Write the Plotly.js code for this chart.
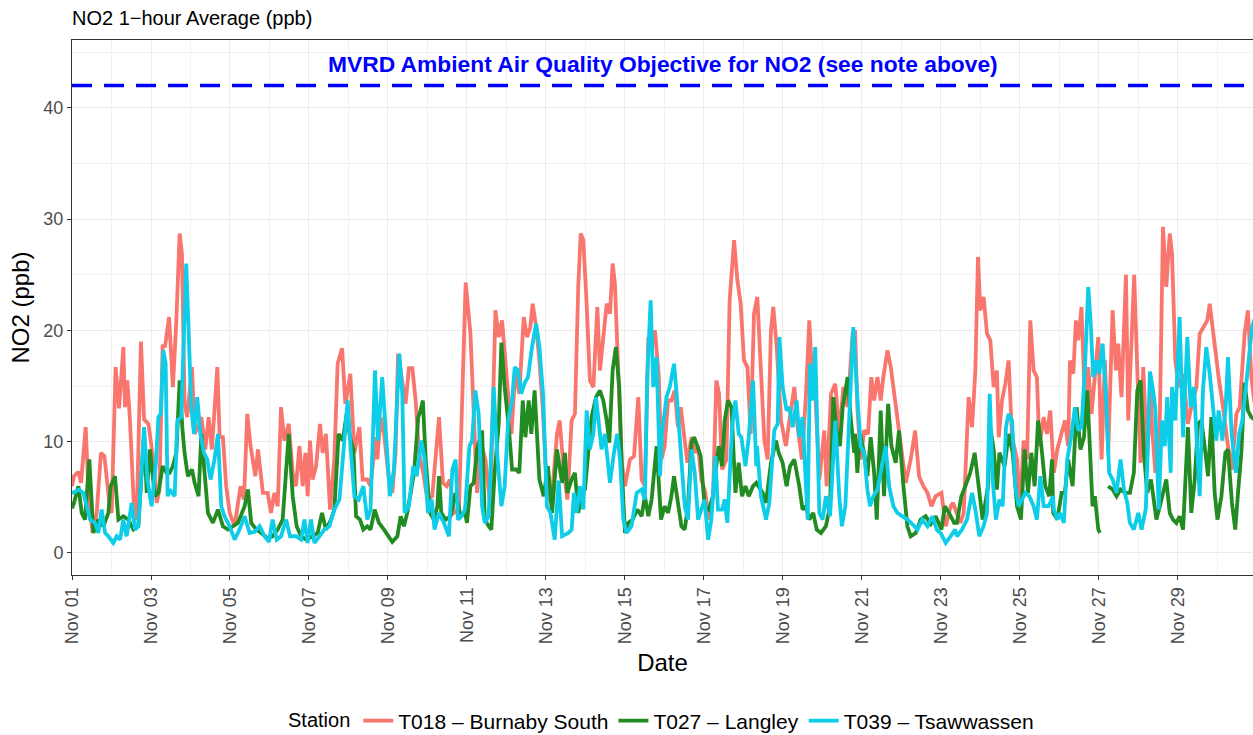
<!DOCTYPE html>
<html>
<head>
<meta charset="utf-8">
<script src="https://cdn.plot.ly/plotly-3.0.1.min.js"></script>
<style>html,body{margin:0;padding:0;background:#fff;}#chart{width:1253px;height:735px;}</style>
</head>
<body>
<div id="chart"></div>
<script>
// Start of the period shown (hours below are counted from this moment)
const startDate = '2023-11-01';
const endHour = 717.6;

// Station names (legend)
const stationNames = ['T018 \u2013 Burnaby South', 'T027 \u2013 Langley', 'T039 \u2013 Tsawwassen'];

// Objective value (ppb) and its label
const objectiveValue = 42;
const objectiveLabel = 'MVRD Ambient Air Quality Objective for NO2 (see note above)';

// Readings: [hours since Nov 01 00:00, NO2 ppb]
const burnabySouth = [[0,6.0],[1.2,6.9],[3.9,7.3],[5.5,6.3],[8.3,11.3],[10.3,4.5],[12.6,1.8],[15.0,3.6],[17.6,9.0],[19.7,8.7],[22.7,4.5],[24.1,3.6],[26.5,16.7],[28.6,13.0],[31.2,18.5],[32.2,13.1],[33.6,15.5],[35.2,12.0],[37.7,3.9],[39.3,3.0],[41.9,19.0],[43.8,12.0],[46.4,11.6],[49.4,8.4],[51.5,4.5],[53.1,5.7],[55.1,18.7],[56.5,18.5],[59.0,21.2],[61.3,14.9],[63.4,20.9],[65.4,28.7],[66.8,26.9],[68.4,13.4],[70.0,12.2],[72.9,16.7],[74.5,10.7],[76.5,11.3],[78.6,12.2],[81.0,9.3],[83.0,12.2],[85.0,9.3],[88.3,16.7],[89.7,10.4],[91.7,10.4],[93.7,6.0],[95.8,3.6],[98.8,2.4],[102.4,6.0],[104.5,4.8],[106.5,12.5],[108.5,9.6],[111.4,6.9],[113.0,9.3],[116.0,5.4],[118.9,5.4],[120.9,3.6],[123.0,5.4],[125.0,4.2],[127.0,13.1],[129.0,10.1],[131.7,11.6],[134.1,7.2],[136.1,6.0],[138.2,9.6],[140.2,6.0],[141.8,9.0],[143.2,5.1],[144.6,10.1],[146.2,6.6],[148.3,7.8],[150.7,11.6],[152.3,9.0],[154.3,10.7],[156.8,3.9],[159.4,8.4],[161.4,17.0],[164.1,18.4],[166.1,13.4],[169.1,16.1],[171.6,9.0],[174.6,11.3],[176.6,6.6],[179.4,6.6],[181.4,6.0],[184.5,10.4],[185.5,8.4],[187.5,12.2],[189.6,10.7],[192.6,6.6],[194.6,5.4],[196.6,9.0],[198.1,17.9],[200.1,15.8],[202.7,13.4],[204.7,16.6],[206.8,16.6],[208.8,13.7],[210.8,9.0],[213.4,7.2],[215.9,4.8],[218.9,5.1],[223.0,12.2],[225.4,6.3],[227.6,6.0],[229.6,6.6],[232.1,3.6],[235.1,3.9],[239.2,24.3],[242.1,19.7],[244.1,13.1],[246.1,5.4],[248.1,10.1],[251.2,8.4],[254.2,4.2],[257.3,21.8],[259.3,19.4],[261.3,20.9],[263.3,17.3],[265.4,13.1],[267.0,10.7],[269.4,16.4],[271.8,14.3],[274.5,21.2],[276.5,19.4],[278.5,20.3],[279.9,22.4],[282.0,20.3],[284.0,17.3],[286.0,13.1],[288.6,5.4],[291.3,4.5],[294.7,10.7],[296.3,11.9],[298.9,7.2],[301.0,4.8],[303.6,11.9],[305.6,12.5],[307.6,23.9],[309.1,28.7],[310.7,28.1],[312.7,22.4],[314.7,15.5],[316.8,14.9],[319.2,22.1],[320.8,16.4],[322.4,19.1],[324.9,22.4],[326.9,21.5],[328.5,26.0],[329.9,24.2],[331.9,17.3],[334.0,8.1],[336.0,6.0],[339.0,8.4],[341.5,8.7],[344.1,14.0],[346.1,6.6],[348.1,6.0],[350.2,19.4],[352.2,18.5],[354.2,20.0],[356.5,16.0],[358.1,8.4],[360.1,9.6],[362.2,13.7],[364.2,13.7],[366.2,14.6],[368.2,11.3],[369.9,13.1],[371.9,10.4],[373.9,8.1],[376.4,10.4],[378.4,9.0],[380.4,9.6],[382.4,6.6],[384.9,5.4],[386.9,3.0],[389.5,5.1],[391.5,15.5],[393.2,14.3],[395.0,7.5],[397.6,8.4],[399.6,22.7],[402.3,28.1],[404.3,24.5],[406.3,22.4],[408.3,17.3],[410.4,16.7],[412.4,10.7],[414.4,21.5],[416.4,23.0],[418.6,16.4],[420.7,10.1],[422.7,8.4],[424.7,20.0],[426.1,22.1],[428.2,18.5],[430.8,11.9],[433.8,9.6],[435.9,11.9],[438.9,14.9],[440.9,11.3],[443.5,8.4],[446.0,14.3],[448.0,20.9],[449.6,16.1],[451.6,14.3],[454.1,6.6],[457.1,11.0],[458.5,6.0],[461.2,14.3],[463.8,15.2],[466.2,10.7],[468.7,14.9],[471.3,13.1],[474.3,19.7],[475.8,20.0],[477.2,13.1],[479.2,8.4],[481.3,11.0],[483.7,10.7],[485.7,15.8],[487.4,13.7],[489.4,15.8],[491.4,13.7],[493.0,15.8],[495.5,18.2],[497.5,16.7],[499.5,14.3],[501.5,11.9],[504.0,9.0],[506.6,6.3],[509.6,8.4],[512.3,11.0],[514.7,6.9],[517.3,6.0],[519.8,5.4],[522.2,4.2],[524.8,5.1],[528.3,5.4],[530.9,2.4],[533.9,4.2],[535.3,4.5],[537.7,3.6],[539.8,2.7],[541.8,3.6],[544.8,14.0],[546.9,11.3],[548.9,16.4],[550.5,26.6],[551.9,21.8],[553.9,23.0],[556.0,19.7],[558.0,19.1],[560.0,14.9],[562.0,16.4],[563.1,10.4],[565.1,13.7],[567.1,15.2],[569.1,17.3],[571.2,10.4],[574.2,8.4],[576.2,4.2],[578.2,10.1],[580.3,8.4],[582.3,20.9],[584.3,16.4],[586.3,15.8],[587.8,9.6],[590.4,12.2],[592.4,10.7],[594.4,12.8],[596.6,7.2],[598.7,9.3],[601.3,10.7],[603.3,11.9],[605.3,9.6],[606.4,17.3],[608.4,16.1],[610.0,20.9],[611.4,19.1],[613.4,22.1],[615.5,13.1],[617.5,16.7],[619.5,12.5],[621.5,15.5],[623.6,19.4],[625.6,8.4],[627.6,17.3],[629.6,9.0],[632.3,21.8],[634.3,16.4],[635.7,18.8],[637.7,14.0],[640.4,25.0],[641.8,11.9],[643.8,20.0],[645.4,25.0],[647.3,16.4],[649.3,8.1],[650.9,16.7],[653.3,8.4],[655.6,15.5],[656.2,11.3],[658.3,7.2],[660.9,11.3],[662.9,29.3],[664.9,23.9],[667.0,28.7],[668.4,26.9],[670.4,17.3],[672.4,14.9],[675.1,16.1],[678.1,11.6],[680.1,13.1],[683.2,14.9],[685.2,19.7],[687.2,20.3],[689.8,20.9],[691.3,22.4],[693.3,19.7],[695.3,17.0],[696.7,15.8],[699.4,13.1],[702.4,9.6],[704.8,7.5],[707.5,12.5],[709.5,13.1],[712.5,19.7],[714.5,21.8],[716.6,15.8],[718.5,13.5]];

const langley = [[0,4.0],[1.2,4.5],[3.9,6.0],[5.9,3.6],[7.9,3.0],[10.5,8.4],[13.0,1.8],[16.0,3.0],[19.1,2.4],[22.1,3.6],[23.5,6.0],[26.1,6.9],[28.2,3.0],[31.2,3.3],[34.2,3.0],[37.3,2.1],[40.3,2.4],[43.8,10.7],[45.4,5.4],[47.4,9.3],[50.4,5.1],[52.5,5.4],[55.1,7.8],[57.5,7.2],[59.3,7.2],[61.3,7.8],[63.4,9.0],[65.4,15.5],[67.0,11.3],[68.4,9.0],[70.4,6.9],[72.9,7.5],[74.5,6.3],[76.9,5.1],[78.6,10.7],[80.6,6.9],[82.6,3.6],[85.6,2.7],[88.7,3.9],[91.7,2.4],[94.8,2.1],[97.8,2.4],[100.8,2.7],[104.9,4.2],[106.9,5.7],[108.9,2.7],[112.0,2.1],[115.0,1.8],[119.1,1.3],[121.9,1.5],[125.0,2.1],[128.0,3.0],[131.7,10.7],[134.1,5.1],[136.5,2.4],[139.2,1.5],[142.2,1.2],[146.2,1.5],[149.3,1.8],[151.9,3.6],[154.3,2.1],[157.4,3.0],[159.4,3.9],[162.0,10.7],[164.5,10.1],[166.9,12.5],[168.9,10.4],[171.0,9.3],[172.6,3.3],[175.0,3.0],[177.0,2.1],[179.4,2.4],[181.4,2.1],[183.9,3.9],[186.5,2.7],[189.6,2.1],[192.6,1.5],[194.6,1.0],[197.7,1.5],[199.7,3.3],[201.7,2.4],[203.7,3.6],[205.8,5.4],[207.8,7.2],[210.4,12.2],[211.8,12.8],[213.2,13.7],[214.9,8.4],[217.5,3.6],[219.9,3.0],[222.0,4.2],[223.0,6.9],[224.4,3.6],[227.0,3.0],[230.0,3.3],[233.1,5.4],[236.1,3.3],[238.8,3.6],[240.0,2.7],[242.1,6.0],[244.1,6.3],[246.1,9.3],[249.2,11.0],[250.8,3.0],[253.2,2.4],[254.8,2.1],[256.8,7.2],[259.3,11.6],[260.9,18.9],[262.9,14.9],[265.4,11.3],[267.4,7.5],[269.8,7.5],[271.8,7.2],[273.9,13.7],[275.5,10.4],[277.5,13.7],[279.1,10.7],[281.1,14.6],[284.0,6.6],[286.6,5.1],[289.2,7.8],[291.7,3.6],[294.7,9.3],[297.8,6.3],[299.5,9.0],[301.0,5.4],[303.6,6.6],[305.6,7.2],[307.6,3.6],[309.7,5.4],[311.7,5.7],[313.7,9.0],[315.7,12.2],[318.4,14.0],[320.8,14.6],[322.8,13.7],[324.9,11.9],[326.5,9.9],[328.5,16.4],[330.5,18.5],[332.5,14.9],[334.2,7.2],[336.0,1.8],[338.0,2.7],[340.6,3.0],[343.5,3.9],[346.1,3.3],[348.1,5.1],[350.2,3.3],[352.2,4.8],[355.2,9.6],[357.9,3.0],[360.1,4.2],[362.2,3.6],[364.2,5.1],[365.8,6.9],[367.8,5.1],[370.3,2.4],[372.3,2.1],[374.3,4.2],[376.4,9.9],[378.0,10.4],[380.0,9.6],[382.0,8.7],[384.4,4.2],[386.9,3.9],[389.5,5.1],[391.5,7.8],[392.9,9.6],[395.0,7.8],[396.6,11.9],[398.6,13.7],[400.7,13.1],[403.1,5.4],[405.1,8.1],[407.1,5.1],[409.2,6.0],[411.2,5.1],[413.8,6.0],[415.8,6.3],[419.7,5.4],[421.7,4.5],[424.7,8.1],[427.8,10.1],[429.4,9.0],[431.8,8.1],[434.2,6.0],[436.3,7.8],[438.9,8.4],[441.9,6.0],[443.9,3.9],[446.0,4.2],[448.0,3.0],[450.4,3.6],[452.5,2.1],[455.1,1.8],[458.1,2.4],[460.6,4.2],[462.6,14.0],[464.6,11.0],[466.6,9.6],[468.3,13.1],[471.3,15.8],[473.3,11.9],[475.3,9.0],[475.8,10.7],[477.2,7.2],[478.8,10.7],[481.3,9.0],[483.3,6.9],[485.3,10.4],[487.4,7.2],[489.0,3.0],[491.4,12.8],[493.4,5.1],[495.9,13.4],[497.9,9.6],[500.5,8.1],[502.5,11.0],[505.2,6.0],[507.6,2.4],[509.6,1.5],[512.7,1.8],[515.7,3.0],[518.7,3.3],[521.8,2.6],[524.8,3.3],[528.3,2.1],[530.3,4.2],[532.9,3.6],[536.0,2.7],[537.7,2.7],[540.4,5.1],[542.8,6.0],[545.8,7.2],[548.5,9.0],[550.9,6.3],[553.3,3.0],[556.6,6.0],[558.0,11.3],[560.0,9.3],[562.0,5.7],[563.5,9.0],[566.7,7.8],[569.1,10.7],[571.6,9.0],[574.2,4.2],[576.6,3.0],[578.8,9.3],[580.9,5.4],[582.9,9.0],[584.9,6.0],[587.0,11.9],[589.0,9.6],[591.4,6.0],[593.8,5.1],[595.5,8.4],[596.2,3.6],[598.7,3.0],[601.3,5.4],[603.3,5.4],[605.3,8.4],[608.0,6.0],[610.4,13.1],[612.8,9.3],[614.9,10.4],[616.9,14.6],[618.5,10.1],[620.1,4.2],[621.5,5.1],[623.6,2.1],[624.6,1.8],[626.8,null],[629.6,6.0],[632.3,5.7],[634.7,5.1],[637.1,5.7],[639.8,5.4],[642.8,5.4],[645.2,7.2],[647.3,14.6],[649.3,15.5],[651.3,9.0],[653.3,5.4],[655.6,6.6],[656.2,6.0],[658.9,3.0],[661.5,4.5],[664.9,6.6],[667.0,3.6],[669.0,3.0],[671.0,2.7],[673.0,3.3],[675.1,2.1],[676.5,6.0],[678.1,11.3],[680.1,3.6],[682.2,6.6],[684.2,11.6],[686.2,11.9],[688.2,9.6],[690.3,6.9],[692.3,12.2],[694.3,5.4],[696.0,3.0],[698.4,5.1],[700.8,9.0],[702.4,9.3],[704.8,4.5],[706.8,2.1],[708.5,5.4],[710.5,9.0],[712.5,15.3],[714.5,12.8],[716.6,12.2],[718.5,12.0]];

const tsawwassen = [[0,5.5],[1.2,5.4],[3.9,5.7],[6.9,5.4],[8.9,4.2],[11.0,3.0],[14.0,2.7],[16.0,1.8],[18.0,3.9],[20.1,1.8],[22.1,1.5],[25.1,0.9],[27.2,1.5],[29.2,1.2],[31.2,3.0],[33.2,1.5],[36.3,4.5],[38.3,2.1],[40.3,2.4],[43.8,11.3],[45.8,6.6],[48.4,4.2],[51.0,8.1],[52.5,12.2],[53.9,12.5],[55.5,18.2],[56.9,17.0],[58.1,5.1],[59.3,5.7],[62.4,5.1],[64.0,11.9],[66.4,12.2],[69.4,26.0],[70.9,19.4],[72.5,13.1],[74.1,10.7],[76.1,14.0],[78.0,10.7],[80.2,9.0],[82.2,8.4],[84.2,6.6],[86.6,8.4],[88.7,10.7],[90.7,4.2],[92.7,3.3],[95.8,2.4],[98.8,1.2],[101.8,2.1],[104.9,3.3],[107.9,1.8],[111.0,1.9],[114.0,2.4],[117.0,1.5],[119.7,1.0],[121.9,3.0],[124.4,1.2],[127.0,1.5],[130.1,3.0],[132.5,1.5],[136.1,1.5],[139.2,1.2],[141.2,3.0],[143.2,0.9],[145.2,3.0],[147.3,0.9],[150.3,1.5],[153.3,2.1],[156.4,2.4],[159.4,3.9],[162.5,4.8],[164.9,9.0],[167.5,13.7],[169.5,9.0],[171.6,5.1],[174.2,4.8],[177.0,6.0],[179.4,3.0],[181.4,3.9],[184.1,16.4],[185.9,10.1],[188.5,15.8],[190.6,10.7],[193.2,5.1],[195.6,7.5],[197.0,11.3],[198.9,17.9],[200.7,14.3],[202.1,3.6],[204.7,4.2],[207.4,7.8],[209.4,6.9],[212.2,10.1],[214.3,8.4],[216.3,3.6],[218.5,4.8],[220.3,2.1],[222.9,3.6],[226.0,2.7],[229.0,1.5],[231.1,7.5],[233.1,8.4],[234.5,3.0],[236.7,3.3],[238.8,3.9],[241.5,9.6],[243.1,10.1],[245.1,14.6],[247.1,12.5],[249.2,4.2],[250.8,2.7],[253.2,3.3],[256.2,14.9],[258.3,9.0],[260.9,4.2],[262.9,6.0],[265.0,11.9],[267.4,13.7],[269.0,16.7],[271.0,16.4],[273.0,14.3],[275.1,15.3],[277.1,15.8],[279.5,18.5],[282.0,20.6],[284.0,18.5],[286.2,14.3],[288.6,4.2],[290.7,3.6],[293.3,1.2],[295.7,6.5],[297.8,1.5],[301.6,1.8],[303.6,2.1],[305.0,5.4],[306.6,3.6],[308.7,6.0],[310.7,3.9],[312.7,12.8],[314.7,9.3],[316.8,10.7],[318.4,14.0],[320.4,10.7],[321.8,9.3],[323.8,10.7],[326.9,6.3],[329.3,9.0],[331.3,10.7],[333.0,8.4],[335.0,3.0],[337.0,1.8],[340.0,2.4],[343.1,5.4],[346.1,5.7],[348.1,4.8],[349.6,16.1],[351.6,22.7],[353.2,14.9],[355.2,17.6],[357.3,6.9],[358.5,10.7],[361.2,14.0],[363.2,14.9],[365.8,17.0],[367.2,14.6],[368.7,11.3],[370.3,9.0],[372.3,4.2],[374.3,3.0],[376.4,9.3],[378.4,7.2],[380.4,3.0],[382.4,3.9],[384.4,4.8],[386.5,1.2],[388.5,3.0],[390.9,8.7],[392.5,3.9],[395.0,3.9],[396.6,4.8],[398.2,2.7],[401.1,11.3],[403.1,13.7],[405.1,10.7],[406.7,10.4],[409.2,7.8],[411.2,10.4],[413.8,15.5],[415.8,7.8],[416.2,9.6],[418.6,5.1],[421.7,3.0],[423.7,4.5],[426.7,11.0],[428.8,11.6],[429.8,19.4],[431.8,14.9],[434.2,12.8],[435.9,13.1],[437.9,11.3],[440.3,13.7],[441.9,10.4],[443.9,12.2],[446.0,5.4],[447.0,3.0],[448.4,17.0],[450.0,13.7],[451.6,18.5],[454.1,3.6],[456.1,3.0],[458.1,5.1],[460.6,3.3],[463.8,11.9],[466.2,5.1],[467.8,2.4],[469.9,4.2],[472.3,12.2],[474.7,20.3],[477.2,14.0],[479.2,9.6],[481.3,9.0],[483.3,5.7],[484.9,4.2],[486.9,5.1],[489.4,5.7],[491.4,7.2],[494.4,9.6],[496.5,6.0],[499.1,4.2],[501.5,3.6],[504.6,3.3],[507.6,3.0],[510.6,2.6],[513.7,2.1],[516.7,3.0],[519.8,2.4],[522.8,3.3],[525.4,2.1],[527.8,1.8],[530.9,0.9],[533.9,1.5],[536.6,2.1],[537.7,1.5],[540.8,2.1],[543.8,3.0],[546.9,5.4],[548.9,3.9],[551.3,1.5],[553.9,2.4],[556.0,3.6],[557.6,14.3],[559.4,6.6],[561.4,3.0],[563.5,4.8],[565.5,4.2],[567.5,11.3],[569.1,12.5],[571.2,11.9],[573.2,6.0],[575.2,4.2],[577.2,4.8],[579.3,5.4],[581.7,5.1],[584.3,4.2],[586.3,3.0],[588.4,6.9],[590.4,4.2],[593.4,4.2],[596.1,5.1],[596.6,3.9],[598.7,3.0],[600.3,3.6],[602.7,2.7],[604.7,8.4],[607.4,10.7],[609.4,13.1],[611.4,11.0],[613.4,11.3],[615.5,16.7],[617.5,23.9],[618.9,20.9],[620.5,15.8],[622.6,17.3],[624.2,16.1],[626.2,18.8],[628.2,14.3],[630.2,7.2],[632.3,6.6],[634.7,5.4],[637.1,8.4],[639.2,5.7],[641.2,4.5],[642.8,2.7],[645.2,2.1],[647.9,3.6],[649.9,2.1],[652.5,4.0],[655.0,16.3],[657.0,14.5],[658.3,12.8],[660.3,3.9],[662.3,11.9],[664.0,9.6],[665.5,14.0],[667.6,7.2],[668.4,14.9],[670.4,11.9],[673.0,21.2],[675.1,10.4],[677.7,19.4],[679.7,13.1],[681.8,14.9],[683.8,9.0],[685.2,5.1],[687.2,14.6],[689.2,18.5],[691.3,16.1],[693.3,13.1],[695.3,10.1],[696.7,12.8],[699.0,10.1],[701.0,13.1],[702.4,17.6],[704.6,10.7],[707.2,7.2],[709.2,10.7],[711.1,11.9],[713.1,14.6],[715.0,17.3],[717.0,20.3],[718.5,21.0]];

const stationData = [burnabySouth, langley, tsawwassen];
const stationColors = ['#F8766D', '#228B22', '#0DCDE8'];

function hourToDate(h) {
  const d = new Date(Date.UTC(2023, 10, 1) + Math.round(h * 3600000));
  const p = n => String(n).padStart(2, '0');
  return d.getUTCFullYear() + '-' + p(d.getUTCMonth() + 1) + '-' + p(d.getUTCDate()) + ' ' +
         p(d.getUTCHours()) + ':' + p(d.getUTCMinutes()) + ':' + p(d.getUTCSeconds());
}

const FONT = '"Liberation Sans", Arial, Helvetica, sans-serif';

const traces = stationData.map((series, i) => ({
  type: 'scatter',
  mode: 'lines',
  name: stationNames[i],
  x: series.map(p => hourToDate(p[0])),
  y: series.map(p => p[1]),
  connectgaps: false,
  line: {color: stationColors[i], width: 3.8},
  hoverinfo: 'skip'
}));

const DAY = 86400000;

const layout = {
  width: 1253,
  height: 735,
  margin: {l: 72, r: 0, t: 40, b: 160},
  paper_bgcolor: '#ffffff',
  plot_bgcolor: '#ffffff',
  font: {family: FONT, color: '#000000'},
  showlegend: true,
  title: {
    text: 'NO2 1\u2212hour Average (ppb)',
    font: {family: FONT, size: 20, color: '#000000'},
    x: 0, xref: 'paper', xanchor: 'left',
    y: 1 - 18 / 735, yref: 'container', yanchor: 'middle'
  },
  xaxis: {
    type: 'date',
    range: [hourToDate(0), hourToDate(endHour)],
    tick0: startDate,
    dtick: 2 * DAY,
    tickformat: '%b %d',
    tickangle: -90,
    ticks: 'outside', ticklen: 4, tickwidth: 1, tickcolor: '#333333',
    tickfont: {family: FONT, size: 18, color: '#4d4d4d'},
    showline: true, linecolor: '#333333', linewidth: 1, mirror: true,
    showgrid: true, gridcolor: '#ebebeb', gridwidth: 1,
    minor: {dtick: DAY, tick0: startDate, showgrid: true, gridcolor: '#f2f2f2', gridwidth: 1, ticks: ''},
    zeroline: false,
    title: {text: 'Date', font: {family: FONT, size: 24, color: '#000000'}, standoff: 10}
  },
  yaxis: {
    range: [-1.98, 46.09],
    tick0: 0, dtick: 10,
    ticks: 'outside', ticklen: 4, tickwidth: 1, tickcolor: '#333333',
    tickfont: {family: FONT, size: 18, color: '#4d4d4d'},
    showline: true, linecolor: '#333333', linewidth: 1, mirror: true,
    showgrid: true, gridcolor: '#ebebeb', gridwidth: 1,
    minor: {dtick: 5, tick0: 0, showgrid: true, gridcolor: '#f2f2f2', gridwidth: 1, ticks: ''},
    zeroline: false,
    title: {text: 'NO2 (ppb)', font: {family: FONT, size: 24, color: '#000000'}, standoff: 6}
  },
  legend: {
    orientation: 'h',
    x: 0.5, xref: 'paper', xanchor: 'center',
    y: 1 - 721 / 735, yref: 'container', yanchor: 'middle',
    font: {family: FONT, size: 21, color: '#000000'},
    title: {text: 'Station', side: 'left', font: {family: FONT, size: 20, color: '#000000'}},
    itemwidth: 30,
    traceorder: 'normal',
    bgcolor: 'rgba(0,0,0,0)'
  },
  shapes: [{
    type: 'line', xref: 'paper', x0: 0, x1: 1, yref: 'y', y0: objectiveValue, y1: objectiveValue,
    line: {color: '#0000ff', width: 3.5, dash: '20px,12px'}, layer: 'above'
  }],
  annotations: [{
    text: '<b>' + objectiveLabel + '</b>',
    xref: 'paper', x: 0.5, xanchor: 'center',
    yref: 'y', y: 43.9, yanchor: 'middle',
    showarrow: false,
    font: {family: FONT, size: 22.8, color: '#0000ff'}
  }]
};

Plotly.newPlot('chart', traces, layout, {staticPlot: true, displayModeBar: false});
</script>
</body>
</html>
